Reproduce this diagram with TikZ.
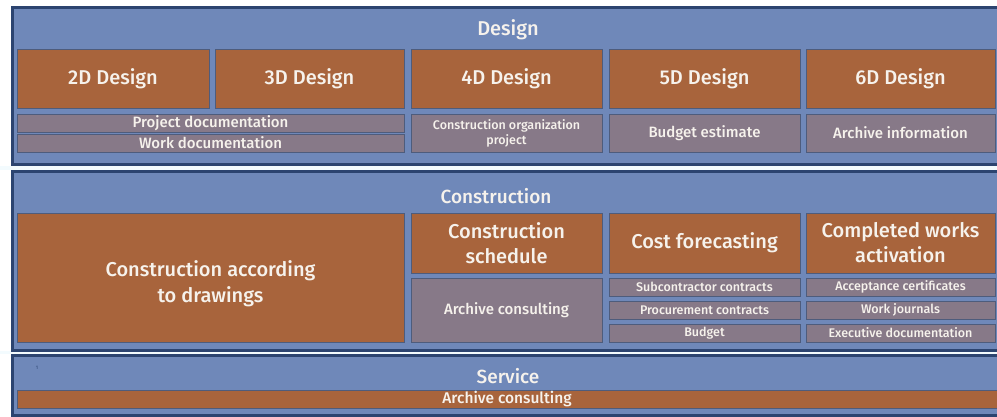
\documentclass[tikz,border=0pt]{standalone}
\usepackage{fontspec}
\setmainfont{Fira Sans}[BoldFont={Fira Sans Medium}]
\definecolor{panelblue}{RGB}{111,136,185}
\definecolor{panelnavy}{RGB}{44,68,112}
\definecolor{rust}{RGB}{168,100,60}
\definecolor{mauvegray}{RGB}{135,121,136}
\definecolor{boxline}{RGB}{78,92,124}
\definecolor{labelwhite}{RGB}{246,242,236}
\begin{document}
\begin{tikzpicture}[x=1pt,y=-1pt,
  panel/.style={draw=panelnavy, line width=3pt, fill=panelblue, inner sep=0pt},
  cell/.style={draw=boxline, line width=0.8pt, inner sep=1pt, text=labelwhite, align=center},
  orangecell/.style={cell, fill=rust, font=\bfseries\fontsize{20}{25}\selectfont},
  graycell/.style={cell, fill=mauvegray, font=\bfseries\fontsize{15}{17}\selectfont},
  smallcell/.style={cell, fill=mauvegray, font=\bfseries\fontsize{12.5}{14}\selectfont},
  paneltitle/.style={text=labelwhite, font=\bfseries\fontsize{19}{22}\selectfont}
]
\useasboundingbox (0,0) rectangle (997,417);
\fill[white] (0,0) rectangle (997,417);
\fill[white!88!cyan!40] (0,166) rectangle (997,170);
\fill[white!88!cyan!40] (0,351) rectangle (997,354);

% ---- panels ----
\node[panel, minimum width=992.5pt, minimum height=157pt] (design) at (508.75,86) {};
\node[panel, minimum width=992.5pt, minimum height=178.5pt] (construction) at (508.75,260.75) {};
\node[panel, minimum width=992.5pt, minimum height=60pt] (service) at (508.75,385.5) {};

% ---- Design ----
\node[paneltitle, font=\bfseries\fontsize{20}{22}\selectfont] (designtitle) at (508,30) {Design};
\node[orangecell, minimum width=192pt, minimum height=59pt] (d2) at (113,78.5) {2D Design};
\node[orangecell, minimum width=189pt, minimum height=59pt] (d3) at (309.5,78.5) {3D Design};
\node[orangecell, minimum width=191pt, minimum height=59pt] (d4) at (506.5,78.5) {4D Design};
\node[orangecell, minimum width=191pt, minimum height=59pt] (d5) at (704.5,78.5) {5D Design};
\node[orangecell, minimum width=189pt, minimum height=59pt] (d6) at (900.5,78.5) {6D Design};

\node[graycell, minimum width=387pt, minimum height=18pt] (projdoc) at (210.5,123) {Project documentation};
\node[graycell, minimum width=387pt, minimum height=18pt] (workdoc) at (210.5,143) {Work documentation};
\node[smallcell, minimum width=191pt, minimum height=38pt, font=\bfseries\fontsize{12.5}{15}\selectfont] (orgproj) at (506.5,133) {Construction organization\\project};
\node[graycell, minimum width=191pt, minimum height=38pt] (budgetest) at (704.5,133) {Budget estimate};
\node[graycell, minimum width=189pt, minimum height=38pt] (archinfo) at (900.5,133) {Archive information};

% ---- Construction ----
\node[paneltitle] (constitle) at (496,196) {Construction};
\node[orangecell, minimum width=387pt, minimum height=129pt, font=\bfseries\fontsize{20}{26}\selectfont] (bydrawings) at (210.5,277.5) {\rule{0pt}{28pt}Construction according\\to drawings};
\node[orangecell, minimum width=191pt, minimum height=60pt] (schedule) at (506.5,243) {Construction\\schedule};
\node[orangecell, minimum width=191pt, minimum height=60pt] (forecast) at (704.5,243) {Cost forecasting};
\node[orangecell, minimum width=189pt, minimum height=60pt] (activation) at (900.5,243) {Completed works\\activation};

\node[graycell, minimum width=191pt, minimum height=64pt] (archcons) at (506.5,310) {Archive consulting};

\node[smallcell, minimum width=191pt, minimum height=18pt] (subcontr) at (704.5,287) {Subcontractor contracts};
\node[smallcell, minimum width=191pt, minimum height=18pt] (procure) at (704.5,310) {Procurement contracts};
\node[smallcell, minimum width=191pt, minimum height=18pt] (budget) at (704.5,333) {Budget};

\node[smallcell, minimum width=189pt, minimum height=18pt] (accept) at (900.5,287) {Acceptance certificates};
\node[smallcell, minimum width=189pt, minimum height=18pt] (journals) at (900.5,310) {Work journals};
\node[smallcell, minimum width=189pt, minimum height=18pt] (execdoc) at (900.5,333) {Executive documentation};

% ---- Service ----
\node[text=panelnavy, font=\fontsize{5}{6}\selectfont] (mark) at (37,368) {1};
\node[paneltitle] (servtitle) at (508,376) {Service};
\node[cell, fill=rust, minimum width=980pt, minimum height=18pt, inner ysep=0pt, font=\bfseries\fontsize{15.5}{16}\selectfont] (servbar) at (507,399) {Archive consulting};
\end{tikzpicture}
\end{document}
